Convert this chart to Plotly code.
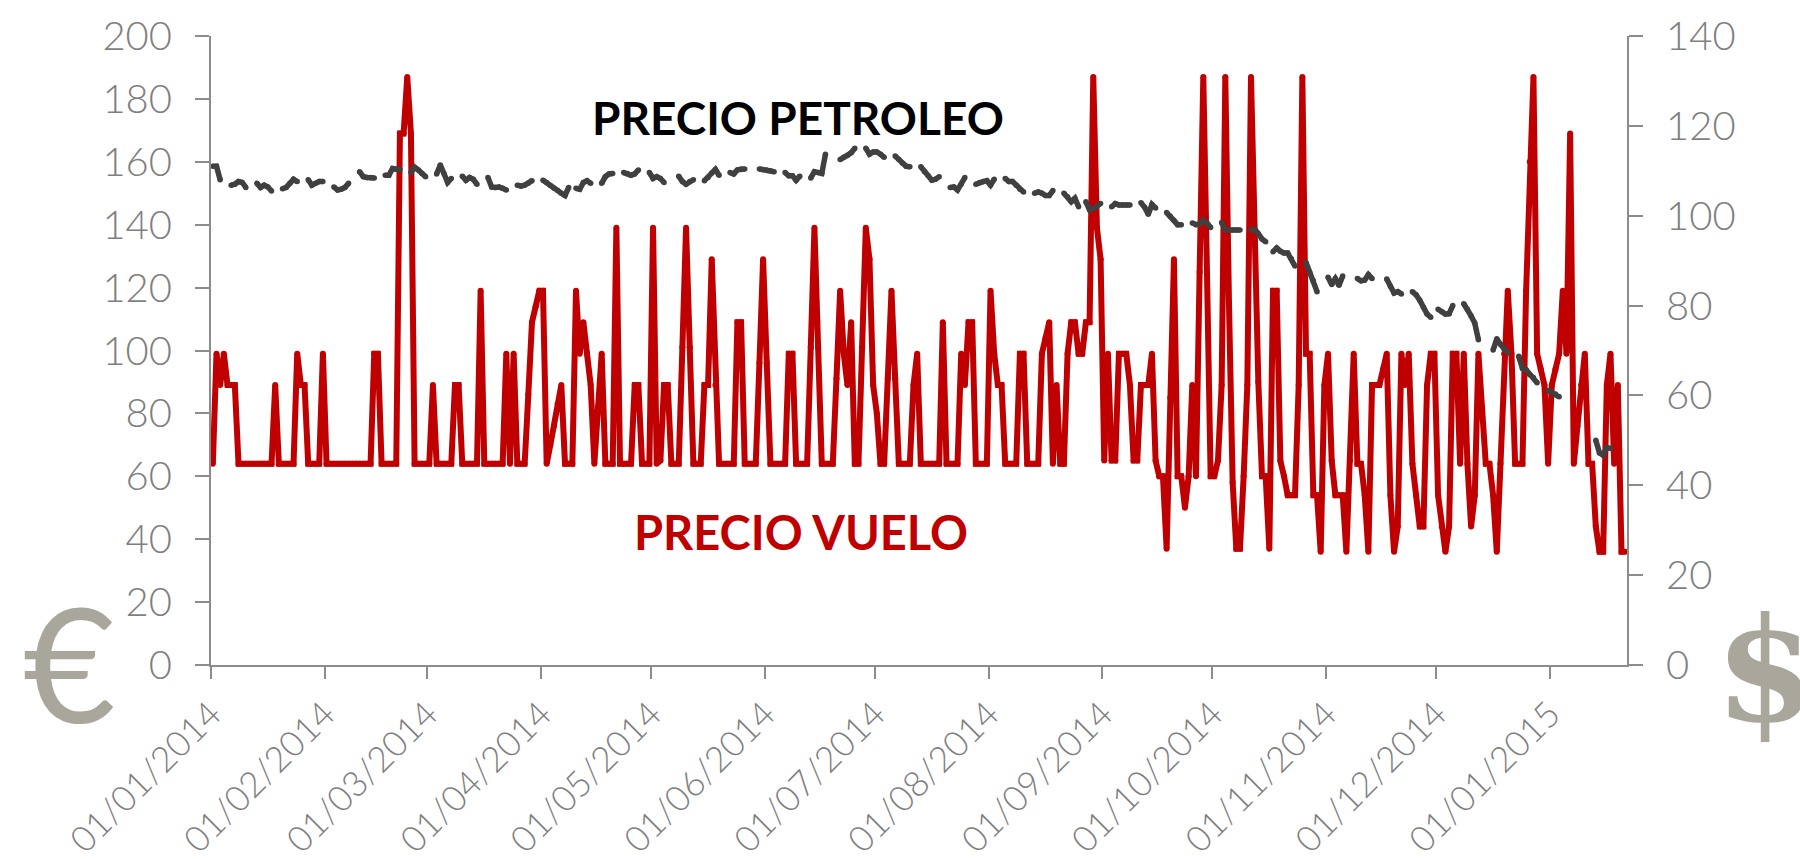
import pandas as pd
import plotly.graph_objects as go

# Daily flight price (EUR), one value per day starting 01/01/2014
flight_prices = [
    64,99,89,99,89,89,89,64,64,64,
    64,64,64,64,64,64,64,89,64,64,
    64,64,64,99,89,89,64,64,64,64,
    99,64,64,64,64,64,64,64,64,64,
    64,64,64,64,99,99,64,64,64,64,
    64,169,169,187,169,64,64,64,64,64,
    89,64,64,64,64,64,89,89,64,64,
    64,64,64,119,64,64,64,64,64,64,
    99,64,99,64,64,64,86,109,114,119,
    119,64,70,76,83,89,64,64,64,119,
    99,109,99,89,64,82,99,64,64,64,
    139,64,64,64,64,89,89,64,64,64,
    139,64,65,89,89,64,64,64,101,139,
    101,64,64,64,89,89,129,89,64,64,
    64,64,64,109,109,64,64,64,64,96,
    129,96,64,64,64,64,64,99,99,64,
    64,64,64,101,139,101,64,64,64,64,
    91,119,99,89,109,64,64,101,139,129,
    89,80,64,64,91,119,91,64,64,64,
    64,89,99,64,64,64,64,64,64,109,
    64,64,64,64,99,89,109,109,64,64,
    64,64,119,99,89,89,64,64,64,64,
    99,99,64,64,64,64,99,104,109,64,
    89,64,64,99,109,109,99,99,109,109,
    187,139,129,65,99,65,65,99,99,99,
    89,65,65,89,89,89,99,65,60,60,
    37,85,129,60,60,50,60,89,60,125,
    187,125,60,60,65,89,187,115,58,37,
    37,60,89,187,135,90,60,60,37,119,
    119,65,60,54,54,54,89,187,99,99,
    54,54,36,89,99,65,54,54,54,36,
    65,99,64,64,54,36,89,89,89,94,
    99,54,36,44,99,89,99,64,54,44,
    44,89,99,99,54,44,36,44,99,99,
    64,99,64,44,54,99,82,64,64,54,
    36,64,99,119,99,64,64,64,119,160,
    187,99,94,89,64,89,94,99,119,99,
    169,64,76,89,99,64,64,44,36,36,
    89,99,64,89,36,36,
]

# Oil price (USD): runs of consecutive trading days, first day offset of each run
oil_run_starts = [0,5,12,19,26,33,40,47,54,61,68,75,83,90,99,106,112,119,127,134,141,149,156,163,171,178,186,193,201,208,216,224,232,238,245,253,260,267,275,283,289,298,304,312,320,327,334,341,349,356,364,377]
oil_runs = [
    [111,111,108],
    [106.8,107.0,107.6,107.4,106.3],
    [107.2,106.3,106.8,106.4,105.5],
    [106.0,106.3,107.2,108.1,107.6],
    [108.0,106.8,107.2,107.6,107.6],
    [106.4,105.7,105.9,106.3,107.2],
    [109.8,108.7,108.5,108.5,108.4],
    [109.0,109.0,110.5,110.3,110.3],
    [109.6,110.8,110.2,109.4,108.7],
    [109.3,111.3,109.4,107.4,108.3],
    [108.8,107.9,108.5,108.1,107.0],
    [108.5,106.4,106.3,106.4,106.1,105.7],
    [106.8,106.6,106.8,107.2,107.8],
    [107.9,107.4,106.7,106.1,105.6,105.0,104.5,106.3],
    [106.1,105.9,107.4,107.8,107.2],
    [107.2,108.7,109.3,109.4],
    [109.6,109.4,109.0,109.3,110.2],
    [109.6,108.3,108.7,108.3,107.4],
    [108.8,107.6,107.0,107.6,108.0],
    [107.8,108.5,109.5,110.3,109.0],
    [109.6,109.3,110.2,110.4,110.4],
    [110.4,110.3,110.2,110.0,109.8],
    [109.6,108.9,108.9,107.9,108.8],
    [108.4,109.8,109.6,109.4,113.7],
    [112.5,113.0,113.4,114.0,115.0],
    [115.0,113.7,114.2,114.2,113.7,113.0],
    [113.3,112.5,111.7,111.0,110.9],
    [110.9,109.8,108.9,107.9,108.1,108.7],
    [106.3,106.4,105.7,107.0,108.5],
    [107.0,107.4,107.6,107.8,106.8,108.1],
    [108.3,107.6,107.6,106.8,105.9,105.3],
    [105.0,105.3,105.0,104.5,104.5,105.6],
    [105.0,104.2,103.1,103.9,102.0],
    [103.1,101.3,101.6,102.0,102.7],
    [102.0,102.7,102.4,102.4,102.4,102.4],
    [102.9,101.9,100.3,102.5,101.7],
    [100.7,99.9,99.0,98.0,98.0],
    [98.4,98.0,98.2,99.0,98.4,97.4],
    [98.5,96.8,96.8,96.8,96.8,96.8],
    [96.8,97.0,96.0,94.8,94.2],
    [92.0,92.8,92.1,91.7,91.7,90.4,88.8],
    [89.6,87.4,85.5,83.1],
    [86.3,84.7,86.0,84.5,86.6],
    [86.0,85.5,85.7,86.9,86.0],
    [85.9,84.3,82.8,83.1,82.6],
    [83.1,82.4,81.2,79.6,78.1,77.4],
    [79.2,78.6,78.1,78.2,80.0],
    [80.4,79.2,77.7,76.1,72.4],
    [70.1,72.6,71.4,70.3,69.5],
    [68.7,66.0,65.7,64.6,64.0,62.8],
    [61.1,60.7,60.3,59.7],
    [50.0,47.2,46.7,48.4,48.2],
]

tick_dates = ["2014-01-01","2014-02-01","2014-03-01","2014-04-01","2014-05-01","2014-06-01",
              "2014-07-01","2014-08-01","2014-09-01","2014-10-01","2014-11-01","2014-12-01","2015-01-01"]
left_ticks = list(range(0, 201, 20))
right_ticks = list(range(0, 141, 20))

start = pd.Timestamp("2014-01-01")
half = pd.Timedelta(hours=12)
flight_x = [start + pd.Timedelta(days=i) for i in range(len(flight_prices))]
oil_x, oil_y = [], []
for s, run in zip(oil_run_starts, oil_runs):
    for k, v in enumerate(run):
        oil_x.append(start + pd.Timedelta(days=s + k))
        oil_y.append(v)
    oil_x.append(start + pd.Timedelta(days=s + len(run)))
    oil_y.append(None)

GREY = "#7f7f7f"
AXIS = "#8c8c8c"
FONT = "Lato"
tick_pos = [pd.Timestamp(d) - half for d in tick_dates]
tick_txt = [pd.Timestamp(d).strftime("%d/%m/%Y") for d in tick_dates]

fig = go.Figure()
fig.add_trace(go.Scatter(x=oil_x, y=oil_y, yaxis="y2", mode="lines+markers", connectgaps=False,
                         line=dict(color="#404040", width=5.5), marker=dict(color="#404040", size=5.5),
                         name="PRECIO PETROLEO", showlegend=False))
fig.add_trace(go.Scatter(x=flight_x, y=flight_prices, mode="lines+markers",
                         line=dict(color="#C00000", width=6), marker=dict(color="#C00000", size=6),
                         name="PRECIO VUELO", showlegend=False))

axis_common = dict(showgrid=False, zeroline=False, showline=True, linecolor=AXIS, linewidth=2,
                   ticks="outside", tickcolor=AXIS, tickwidth=2,
                   tickfont=dict(family=FONT, size=40, color=GREY, weight=300))
fig.update_layout(
    width=1800, height=859, margin=dict(l=211, r=173, t=36, b=194, autoexpand=False),
    paper_bgcolor="white", plot_bgcolor="white", showlegend=False,
    xaxis=dict(type="date", range=[start - half, start + pd.Timedelta(days=385) + half],
               tickmode="array", tickvals=tick_pos, ticktext=tick_txt, tickangle=-45, ticklen=12,
               **{**axis_common, "tickfont": dict(family=FONT, size=35.5, color=GREY, weight=300)}),
    yaxis=dict(range=[0, 200], tickmode="array", tickvals=left_ticks, ticklen=14, ticklabelstandoff=15, **axis_common),
    yaxis2=dict(range=[0, 140], overlaying="y", side="right", tickmode="array", tickvals=right_ticks,
                ticklen=14, ticklabelstandoff=15, **axis_common),
)
# annotations placed as fractions of the plot area
W, H = 1800 - 211 - 173, 859 - 36 - 194
def note(text, px, py, **font):
    fig.add_annotation(text=text, x=(px - 211) / W, y=(665 - py) / H, xref="paper", yref="paper",
                       showarrow=False, xanchor="center", yanchor="middle", font=font)
note("PRECIO PETROLEO", 798, 117, family=FONT, size=46, color="#000000", weight=700)
note("PRECIO VUELO", 801, 532, family=FONT, size=47, color="#C00000", weight=700)
note("€", 69, 661, family=FONT, size=160, color="#A9A69C", weight=400)
note("$", 1765, 670, family="DejaVu Serif", size=145, color="#A9A69C", weight=700)
fig.write_html("out.html", config={"displayModeBar": False},
               post_script="document.body.style.margin='0';document.body.style.overflow='hidden';")
